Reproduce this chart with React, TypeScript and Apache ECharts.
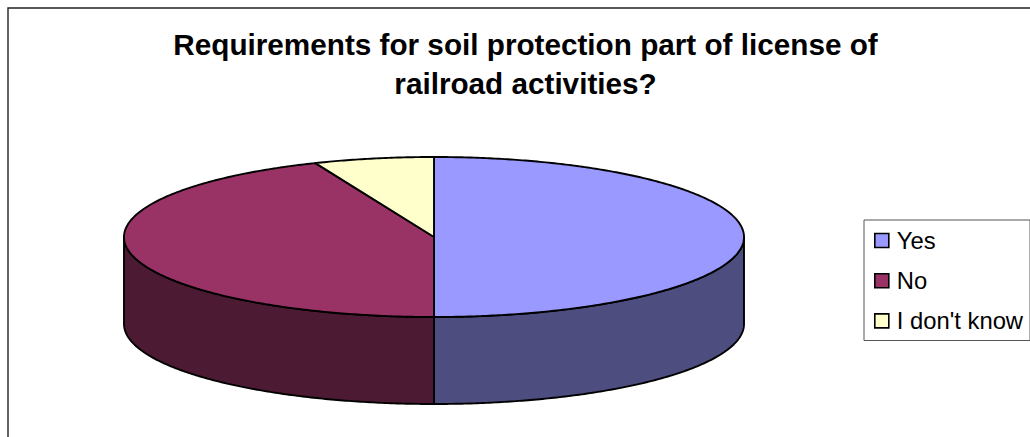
import React, { useEffect, useRef } from "react";
import * as echarts from "echarts";

const categories = ["Yes", "No", "I don't know"];
const counts = [8, 7, 1];
const topColors = ["#9999FF", "#993366", "#FFFFCC"];
const sideColors = ["#4D4D80", "#4D1A33", "#808066"];
const titleText = "Requirements for soil protection part of license of\nrailroad activities?";

const CX = 434, CY = 237, RX = 310, RY = 80, DEPTH = 87;
const total = counts.reduce((a, b) => a + b, 0);

function pt(theta: number, dy = 0): number[] {
  return [CX + RX * Math.sin(theta), CY - RY * Math.cos(theta) + dy];
}
function arc(a0: number, a1: number, dy = 0): number[][] {
  const n = Math.max(2, Math.ceil(Math.abs(a1 - a0) / 0.01));
  const out: number[][] = [];
  for (let i = 0; i <= n; i++) out.push(pt(a0 + ((a1 - a0) * i) / n, dy));
  return out;
}

function makeSeries(idx: number) {
  const before = counts.slice(0, idx).reduce((a, b) => a + b, 0);
  return {
    type: "custom",
    name: categories[idx],
    coordinateSystem: "none",
    silent: true,
    data: [[counts[idx]]],
    renderItem: (_p: any, api: any) => {
      const v = api.value(0) as number;
      const a0 = (before / total) * Math.PI * 2;
      const a1 = a0 + (v / total) * Math.PI * 2;
      const children: any[] = [];
      const f0 = Math.max(a0, Math.PI / 2);
      const f1 = Math.min(a1, (Math.PI * 3) / 2);
      const lineStyle = { stroke: "#000", lineWidth: 1.9, lineJoin: "round" };
      if (f1 > f0) {
        const topEdge = arc(f0, f1);
        const botEdge = arc(f1, f0, DEPTH);
        children.push({
          type: "polygon",
          shape: { points: [...topEdge, ...botEdge] },
          style: { fill: sideColors[idx], ...lineStyle },
        });
      }
      children.push({
        type: "polygon",
        shape: { points: [[CX, CY], ...arc(a0, a1)] },
        style: { fill: topColors[idx], ...lineStyle },
        z2: 5,
      });
      return { type: "group", children };
    },
    itemStyle: { color: topColors[idx] },
  };
}

export default function App() {
  const ref = useRef<HTMLDivElement>(null);
  useEffect(() => {
    document.body.style.margin = "0";
    const chart = echarts.init(ref.current!, undefined, { renderer: "svg" });
    chart.setOption({
      animation: false,
      backgroundColor: "#fff",
      title: {
        text: titleText,
        left: 520.5,
        top: 20,
        textAlign: "center",
        textStyle: {
          fontFamily: "Liberation Sans",
          fontWeight: "bold",
          fontSize: 29.7,
          lineHeight: 39,
          color: "#000",
          align: "center",
        },
      },
      legend: {
        orient: "vertical",
        left: 864,
        top: 220,
        padding: [8.5, 7, 7.6, 10],
        itemWidth: 14,
        itemHeight: 14,
        itemGap: 16.2,
        borderColor: "#555",
        borderWidth: 1,
        backgroundColor: "#fff",
        icon: "rect",
        selectedMode: false,
        textStyle: { fontFamily: "Liberation Sans", fontSize: 23.8, color: "#000", padding: [0, 0, 4, 3] },
        itemStyle: { borderColor: "#000", borderWidth: 1.6 },
        data: categories,
      },
      graphic: [
        {
          type: "polyline",
          shape: { points: [[8, 437], [8, 8], [1030, 8]] },
          style: { stroke: "#222", lineWidth: 1.4, fill: "none" },
          silent: true,
        },
      ],
      series: counts.map((_, i) => makeSeries(i)),
    });
    return () => chart.dispose();
  }, []);
  return <div ref={ref} style={{ width: 1030, height: 437 }} />;
}
